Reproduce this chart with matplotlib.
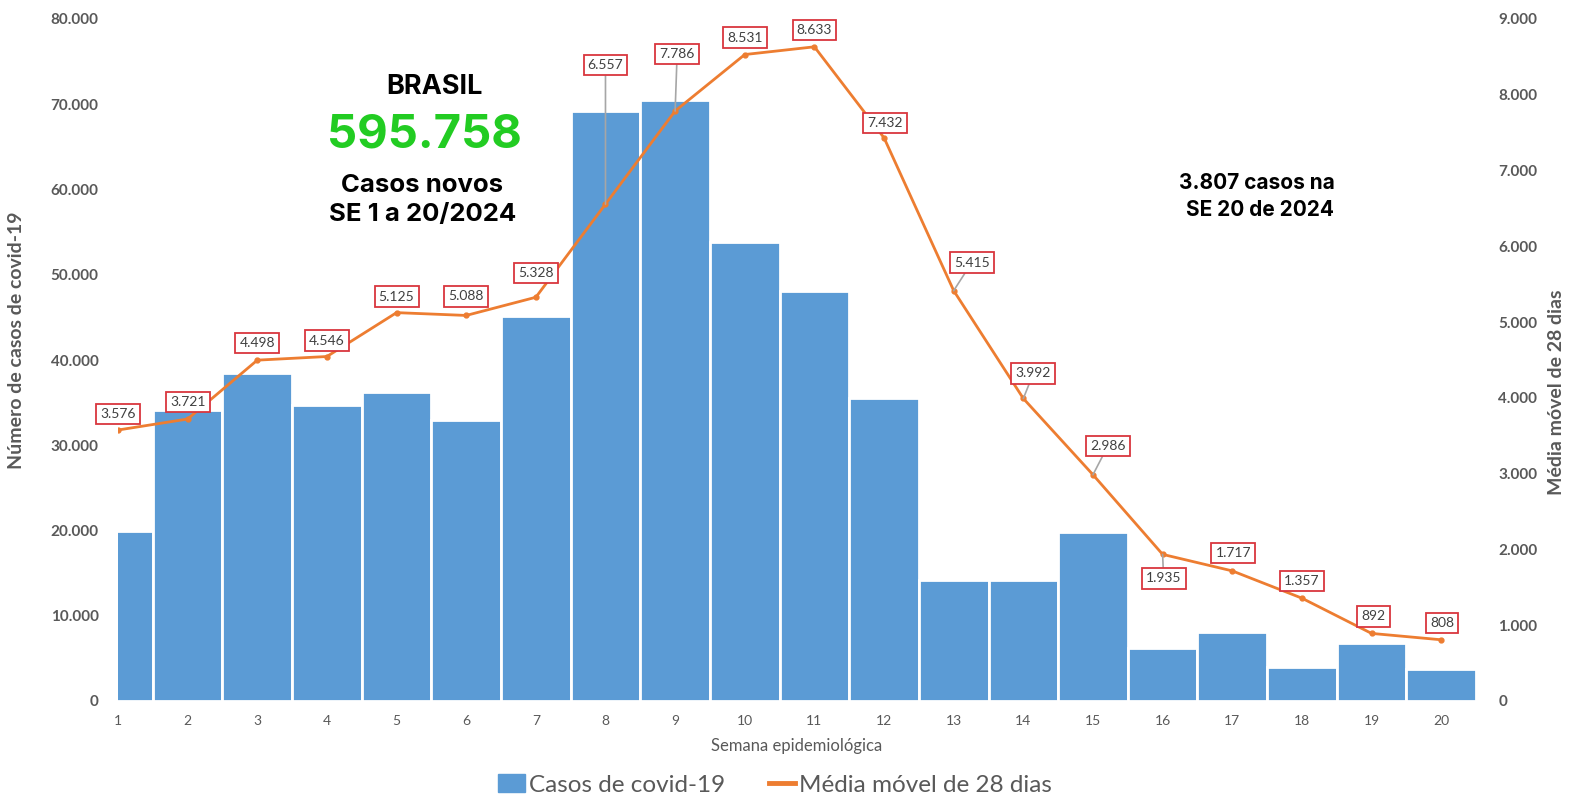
import matplotlib.pyplot as plt
from matplotlib.patches import Patch
from matplotlib.lines import Line2D

plt.rcParams['font.family'] = ['Lato', 'DejaVu Sans']

# dados
semanas = list(range(1, 21))
casos = [20000, 34080, 38430, 34780, 36190, 33020, 45120, 69210, 70500, 53820,
         48060, 35600, 14220, 14220, 19860, 6230, 8110, 4000, 6820, 3807]
media_movel = [3576, 3721, 4498, 4546, 5125, 5088, 5328, 6557, 7786, 8531,
               8633, 7432, 5415, 3992, 2986, 1935, 1717, 1357, 892, 808]
rotulos = ["3.576", "3.721", "4.498", "4.546", "5.125", "5.088", "5.328", "6.557", "7.786", "8.531",
           "8.633", "7.432", "5.415", "3.992", "2.986", "1.935", "1.717", "1.357", "892", "808"]
ticks_esq = [0, 10000, 20000, 30000, 40000, 50000, 60000, 70000, 80000]
ticks_dir = [0, 1000, 2000, 3000, 4000, 5000, 6000, 7000, 8000, 9000]

# deslocamento dos rótulos (pixels) e se tem linha guia
desloc = [(0, 16), (0, 17), (0, 17), (0, 16), (0, 16), (0, 19), (0, 24), (0, 139), (2, 57), (0, 17),
          (0, 17), (1, 15), (18, 28), (10, 25), (15, 29), (1, -24), (1, 18), (0, 17), (2, 17), (1, 17)]
guia = [False] * 7 + [True, True] + [False] * 3 + [True, True, True, True] + [False] * 4

W, H = 1574, 801
fig = plt.figure(figsize=(W / 100, H / 100), dpi=100)
ax = fig.add_axes([118 / W, 1 - 701 / H, (1476 - 118) / W, (701 - 19) / H])
ax2 = ax.twinx()

azul = "#5B9BD5"
laranja = "#ED7D31"
cinza = "#595959"

ax.bar(semanas, casos, width=1.0, color=azul, edgecolor="white", linewidth=2, zorder=2)
ax.set_xlim(1, 20.5)
ax.set_ylim(0, 80000)
ax.set_yticks(ticks_esq)
ax.set_yticklabels([f"{t:,}".replace(",", ".") for t in ticks_esq],
                   fontsize=11, color=cinza, fontweight="bold")
ax.set_xticks(semanas)
ax.set_xticklabels([str(s) for s in semanas], fontsize=10, color=cinza)
ax.tick_params(length=0, pad=10)
ax.tick_params(axis="y", pad=14)

ax2.plot(semanas, media_movel, color=laranja, linewidth=2, marker="o", markersize=3.5, zorder=3)
ax2.set_ylim(0, 9000)
ax2.set_yticks(ticks_dir)
ax2.set_yticklabels([f"{t:,}".replace(",", ".") for t in ticks_dir],
                    fontsize=11, color=cinza, fontweight="bold")
ax2.tick_params(length=0, pad=16)

for a in (ax, ax2):
    for s in a.spines.values():
        s.set_visible(False)

for x, y, txt, (dx, dy), g in zip(semanas, media_movel, rotulos, desloc, guia):
    props = dict(arrowstyle="-", color="#A6A6A6", lw=1.2, shrinkA=0, shrinkB=0) if g else None
    ax2.annotate(txt, xy=(x, y), xytext=(dx, dy), textcoords="offset pixels",
                 ha="center", va="center", fontsize=10, color="#404040",
                 bbox=dict(boxstyle="square,pad=0.3", fc="white", ec="#D9363E", lw=1.3),
                 arrowprops=props, zorder=5)

ax.set_xlabel("Semana epidemiológica", fontsize=12, color=cinza, labelpad=8)
fig.text(17 / W, 1 - 340 / H, "Número de casos de covid-19", rotation=90, ha="center", va="center",
         fontsize=14, color=cinza, fontweight="bold")
fig.text(1557 / W, 1 - 392 / H, "Média móvel de 28 dias", rotation=90, ha="center", va="center",
         fontsize=14, color=cinza, fontweight="bold")

# textos de destaque
destaque = ["Inter", "DejaVu Sans"]
fig.text(434 / W, 1 - 87 / H, "BRASIL", ha="center", va="center", fontsize=19.5,
         fontweight="bold", family=destaque)
fig.text(424 / W, 1 - 135 / H, "595.758", ha="center", va="center", fontsize=34,
         fontweight="bold", color="#22CC22", family=destaque)
fig.text(422 / W, 1 - 186 / H, "Casos novos", ha="center", va="center",
         fontsize=18.5, fontweight="bold", family=destaque)
fig.text(423 / W, 1 - 215 / H, "SE 1 a 20/2024", ha="center", va="center",
         fontsize=18.5, fontweight="bold", family=destaque)
fig.text(1257 / W, 1 - 183 / H, "3.807 casos na", ha="center", va="center",
         fontsize=15, fontweight="bold", family=destaque)
fig.text(1260 / W, 1 - 210 / H, "SE 20 de 2024", ha="center", va="center",
         fontsize=15, fontweight="bold", family=destaque)

handles = [Patch(color=azul), Line2D([0], [0], color=laranja, lw=3.5)]
fig.legend(handles, ["Casos de covid-19", "Média móvel de 28 dias"], loc="center",
           bbox_to_anchor=(775 / W, 1 - 785 / H), ncol=2, frameon=False, fontsize=17.5,
           labelcolor=cinza, handlelength=1.1, handletextpad=0.15, columnspacing=1.8)

fig.savefig("out.png", dpi=100)
